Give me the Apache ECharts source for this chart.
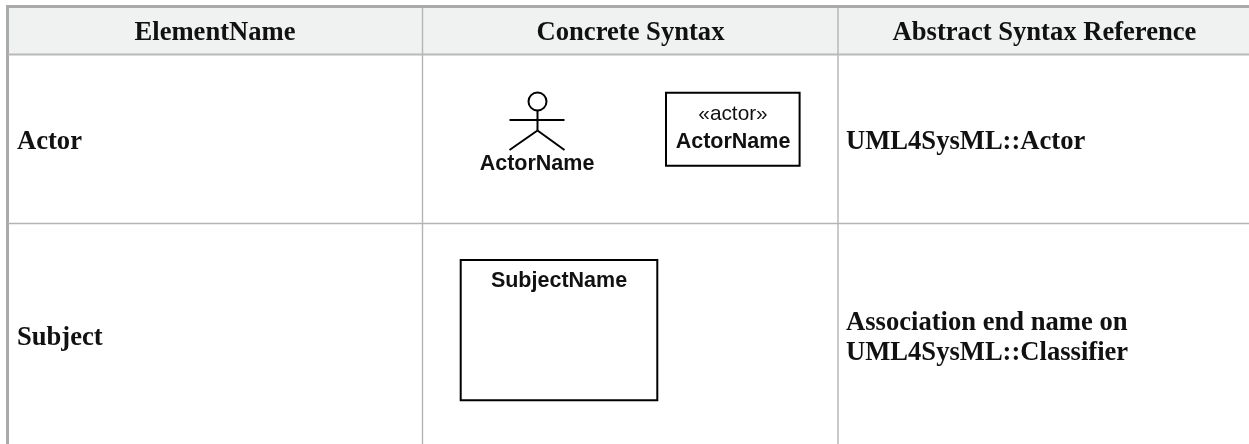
<!DOCTYPE html>
<html>
<head>
<meta charset="utf-8">
<style>html,body{margin:0;padding:0;background:#fff}#c{width:1249px;height:444px}</style>
<script src="https://cdn.jsdelivr.net/npm/echarts@6/dist/echarts.min.js"></script>
</head>
<body>
<div id="c"></div>
<script>
var headers = ['ElementName', 'Concrete Syntax', 'Abstract Syntax Reference'];
var rowNames = ['Actor', 'Subject'];
var actorRefs = ['UML4SysML::Actor'];
var subjectRefs = ['Association end name on', 'UML4SysML::Classifier'];
var actorLabel = 'ActorName';
var stereotype = '«actor»';
var subjectLabel = 'SubjectName';

var SERIF = '"Liberation Serif","Times New Roman",serif';
var SANS = '"Liberation Sans",Arial,sans-serif';
var INK = '#111111';
var SERIF_SIZE = 26.6;

function text(s, x, y, size, opt) {
  opt = opt || {};
  return { type: 'text', x: x, y: y, silent: true, z: 5,
    style: { text: s, fill: opt.fill || INK, font: (opt.weight || 'bold') + ' ' + size + 'px ' + (opt.family || SERIF),
      textAlign: opt.align || 'left', textVerticalAlign: 'middle' } };
}
function line(x1, y1, x2, y2, color, w) {
  return { type: 'line', silent: true, z: 3, shape: { x1: x1, y1: y1, x2: x2, y2: y2 },
    style: { stroke: color, lineWidth: w, lineCap: 'butt' } };
}
function box(x, y, w, h) {
  return { type: 'rect', silent: true, z: 4, shape: { x: x, y: y, width: w, height: h },
    style: { fill: '#fff', stroke: '#000', lineWidth: 2 } };
}

var els = [
  { type: 'rect', silent: true, z: 1, shape: { x: 7, y: 6, width: 1242, height: 48 }, style: { fill: '#f0f2f1' } },
  line(6, 6.5, 1249, 6.5, '#aaaaaa', 3),
  line(7.5, 5, 7.5, 444, '#aaaaaa', 3),
  line(422.5, 8, 422.5, 444, '#b4b4b4', 1.4),
  line(838, 8, 838, 444, '#b4b4b4', 1.4),
  line(8, 54.5, 1249, 54.5, '#b8b8b8', 2),
  line(8, 223.5, 1249, 223.5, '#b4b4b4', 1.4),

  text(headers[0], 215, 33.5, SERIF_SIZE, { align: 'center' }),
  text(headers[1], 630.5, 33.5, SERIF_SIZE, { align: 'center' }),
  text(headers[2], 1044.5, 33.5, SERIF_SIZE, { align: 'center' }),

  text(rowNames[0], 17, 142, SERIF_SIZE),
  text(rowNames[1], 17, 338.5, SERIF_SIZE),
  text(actorRefs[0], 846, 142.5, SERIF_SIZE),
  text(subjectRefs[0], 846, 323.5, SERIF_SIZE),
  text(subjectRefs[1], 846, 353.5, SERIF_SIZE),

  { type: 'circle', silent: true, z: 4, shape: { cx: 537.5, cy: 101.5, r: 9 },
    style: { fill: '#fff', stroke: '#000', lineWidth: 2 } },
  line(537.5, 110.5, 537.5, 130.5, '#000', 2),
  line(509.5, 120, 564.5, 120, '#000', 2),
  line(537.5, 130.5, 509.5, 150, '#000', 2),
  line(537.5, 130.5, 564.5, 150, '#000', 2),
  text(actorLabel, 537, 164.5, 21.5, { align: 'center', family: SANS }),

  box(666, 92.7, 133.6, 73),
  text(stereotype, 733, 114, 20.8, { align: 'center', family: SANS, weight: 'normal' }),
  text(actorLabel, 733, 142, 21.5, { align: 'center', family: SANS }),

  box(460.7, 260, 196.6, 140.3),
  text(subjectLabel, 559, 281.5, 21.5, { align: 'center', family: SANS })
];

var chart = echarts.init(document.getElementById('c'), null, { renderer: 'canvas' });
chart.setOption({ animation: false, backgroundColor: '#fff', graphic: { elements: els } });
</script>
</body>
</html>
